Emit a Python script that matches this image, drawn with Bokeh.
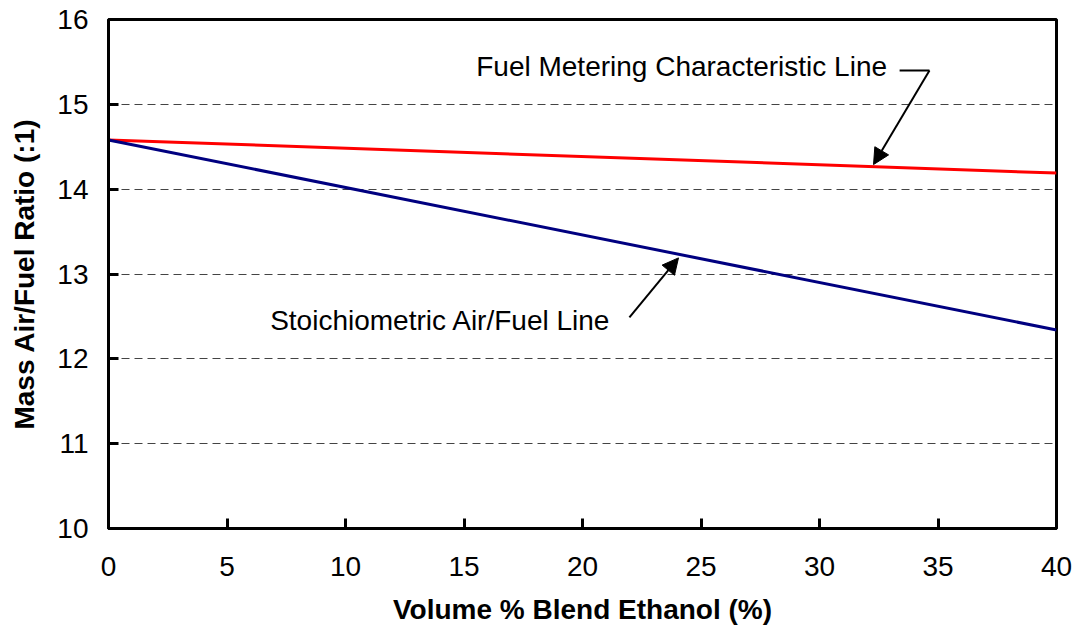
from bokeh.plotting import figure
from bokeh.models import Range1d, Arrow, NormalHead, Label, FixedTicker
from bokeh.embed import file_html
from bokeh.resources import INLINE

ethanol_pct = [0, 40]
metering_afr = [14.58, 14.19]
stoich_afr = [14.58, 12.34]
x_ticks = [0, 5, 10, 15, 20, 25, 30, 35, 40]
y_ticks = [10, 11, 12, 13, 14, 15, 16]

FONT = "Liberation Sans"
FS = "28px"

p = figure(width=1075, height=630, output_backend="svg", toolbar_location=None,
           x_range=Range1d(0, 40), y_range=Range1d(10, 16),
           min_border_left=108, min_border_right=19, min_border_top=19, min_border_bottom=102)
p.background_fill_color = "white"
p.border_fill_color = "white"
p.outline_line_color = "black"
p.outline_line_width = 3

p.xgrid.grid_line_color = None
p.ygrid.grid_line_color = "#444444"
p.ygrid.grid_line_dash = "8 5"
p.ygrid.grid_line_width = 1
p.ygrid.ticker = FixedTicker(ticks=[11, 12, 13, 14, 15])

for ax in (p.xaxis[0], p.yaxis[0]):
    ax.axis_line_width = 3
    ax.axis_line_color = "black"
    ax.major_tick_in = 10
    ax.major_tick_out = 0
    ax.major_tick_line_width = 3
    ax.minor_tick_line_color = None
    ax.major_label_text_font = FONT
    ax.major_label_text_font_size = FS
    ax.major_label_text_color = "black"
    ax.axis_label_text_font = FONT
    ax.axis_label_text_font_size = FS
    ax.axis_label_text_font_style = "bold"
    ax.axis_label_text_color = "black"

p.xaxis.ticker = FixedTicker(ticks=x_ticks)
p.yaxis.ticker = FixedTicker(ticks=y_ticks)
p.xaxis.axis_label = "Volume % Blend Ethanol (%)"
p.yaxis.axis_label = "Mass Air/Fuel Ratio (:1)"
p.xaxis.major_label_standoff = 28
p.yaxis.major_label_standoff = 20
p.xaxis.axis_label_standoff = 15
p.yaxis.axis_label_standoff = 14

p.line(ethanol_pct, metering_afr, line_color="#FF0000", line_width=3)
p.line(ethanol_pct, stoich_afr, line_color="#000080", line_width=3)

# annotations
p.add_layout(Label(x=32.85, y=15.45, text="Fuel Metering Characteristic Line",
                   text_font=FONT, text_font_size=FS, text_align="right",
                   text_baseline="middle", text_color="black"))
p.segment(x0=[33.38], y0=[15.40], x1=[34.64], y1=[15.40], line_color="black", line_width=2)
p.add_layout(Arrow(x_start=34.64, y_start=15.40, x_end=32.28, y_end=14.29,
                   line_color="black", line_width=2,
                   end=NormalHead(size=16, fill_color="black", line_color="black")))

p.add_layout(Label(x=21.2, y=12.45, text="Stoichiometric Air/Fuel Line",
                   text_font=FONT, text_font_size=FS, text_align="right",
                   text_baseline="middle", text_color="black"))
p.add_layout(Arrow(x_start=21.98, y_start=12.49, x_end=24.05, y_end=13.19,
                   line_color="black", line_width=2,
                   end=NormalHead(size=16, fill_color="black", line_color="black")))

open("out.html", "w").write(file_html(p, INLINE))
